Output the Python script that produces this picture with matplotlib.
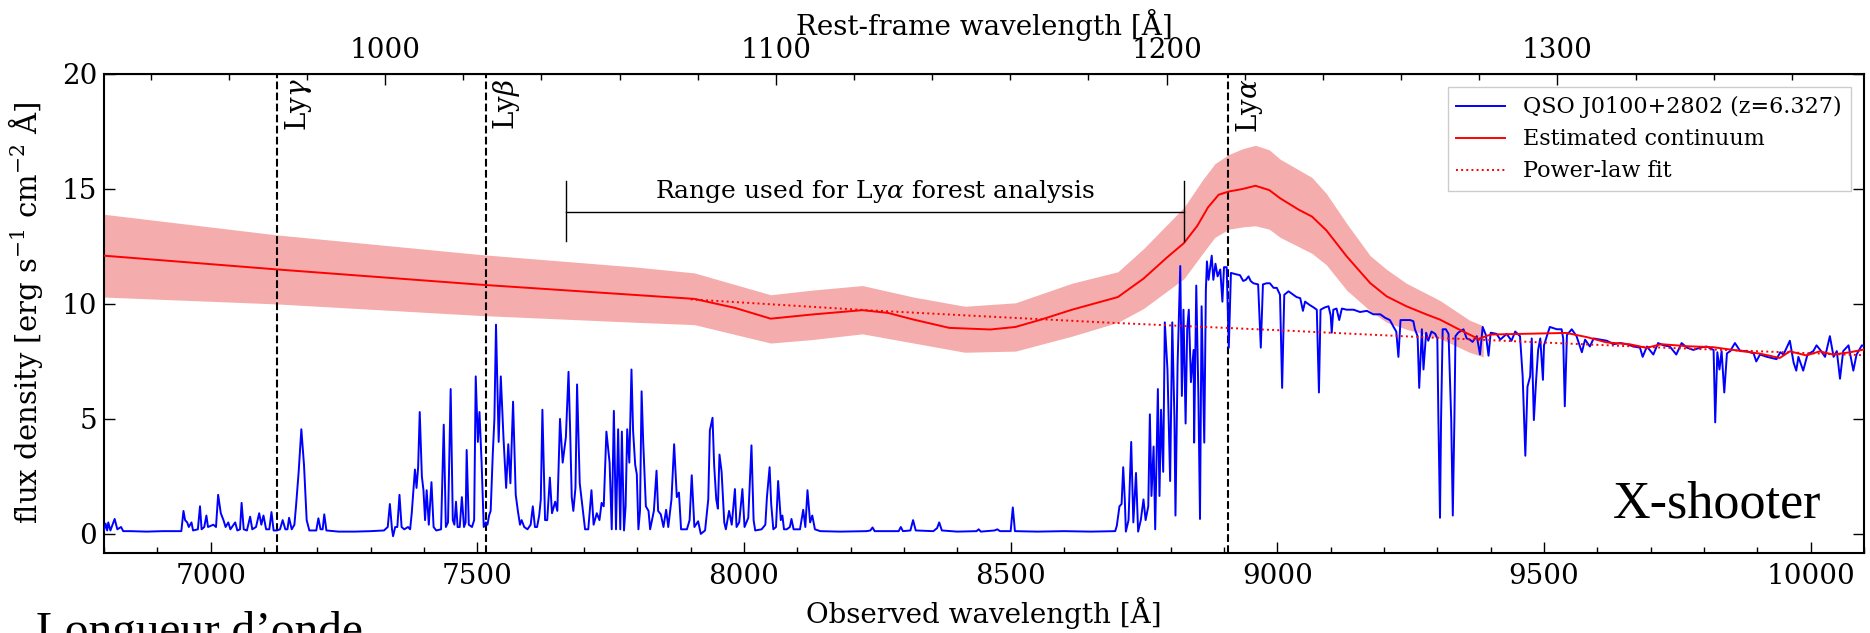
import numpy as np
import matplotlib
matplotlib.use('Agg')
import matplotlib.pyplot as plt
from matplotlib.ticker import MultipleLocator

plt.rcParams['font.family'] = ['DejaVu Serif']
plt.rcParams['mathtext.fontset'] = 'dejavuserif'

# ---------------- data ----------------
z_qso = 6.327
line_labels = [r'Ly$\gamma$', r'Ly$\beta$', r'Ly$\alpha$']
line_obs = [7125, 7516, 8908]

x_ticks_obs = [7000, 7500, 8000, 8500, 9000, 9500, 10000]
y_ticks = [0, 5, 10, 15, 20]
x_ticks_rest = [1000, 1100, 1200, 1300]

# observed spectrum (wavelength [A], flux)
spec_forest = [
    (6800, 0.15), (6803, 0.45), (6806, 0.15), (6808, 0.5), (6812, 0.15), (6820, 0.65), (6825, 0.2),
    (6832, 0.3), (6836, 0.12), (6850, 0.12), (6880, 0.1), (6910, 0.12), (6945, 0.12),
    (6949, 1.0), (6952, 0.6), (6956, 0.5), (6959, 0.3), (6964, 0.5), (6967, 0.15), (6976, 0.2),
    (6980, 1.2), (6983, 0.2), (6988, 0.3), (6992, 0.8), (6995, 0.3), (7005, 0.4), (7010, 0.3),
    (7014, 1.7), (7019, 0.9), (7024, 0.6), (7028, 0.3), (7033, 0.5), (7037, 0.2), (7046, 0.5),
    (7050, 0.15), (7055, 0.2), (7058, 1.35), (7062, 0.2), (7068, 0.15), (7074, 0.75), (7078, 0.2),
    (7085, 0.3), (7091, 0.9), (7095, 0.4), (7099, 0.8), (7104, 0.2), (7110, 0.2), (7114, 0.95),
    (7118, 0.15), (7124, 0.15), (7130, 0.2), (7135, 0.6), (7140, 0.2), (7144, 0.2), (7147, 0.7),
    (7152, 0.2), (7157, 0.4), (7160, 1.2), (7165, 2.7), (7170, 4.55), (7175, 3.0), (7180, 0.6),
    (7185, 0.15), (7198, 0.15), (7202, 0.68), (7206, 0.2), (7210, 0.2), (7213, 0.85), (7217, 0.15),
    (7240, 0.1), (7270, 0.1), (7300, 0.12), (7325, 0.15), (7332, 0.3), (7336, 1.3), (7340, 0.2),
    (7342, -0.1), (7346, 0.3), (7350, 0.3), (7354, 1.7), (7358, 0.3), (7363, 0.2), (7370, 0.3),
    (7374, 0.2), (7377, 0.9), (7383, 2.8), (7386, 2.0), (7389, 2.9), (7392, 5.3), (7396, 2.5),
    (7399, 1.9), (7402, 0.6), (7405, 1.9), (7409, 0.4), (7414, 2.25), (7418, 0.3), (7423, 0.15),
    (7432, 0.2), (7437, 4.75), (7441, 0.3), (7445, 0.5), (7450, 6.3), (7454, 0.6), (7457, 0.4),
    (7460, 1.4), (7463, 0.3), (7467, 0.3), (7471, 1.6), (7475, 0.3), (7478, 0.5), (7480, 3.65),
    (7484, 0.4), (7490, 0.3), (7494, 0.6), (7497, 6.85), (7501, 4.0), (7504, 5.3), (7508, 3.1),
    (7512, 0.3), (7516, 0.5), (7519, 0.4), (7522, 0.8), (7525, 1.0), (7529, 3.5), (7532, 5.0),
    (7535, 9.1), (7538, 6.0), (7540, 4.0), (7544, 6.85), (7549, 4.2), (7554, 2.0), (7558, 3.9),
    (7562, 2.2), (7567, 5.75), (7572, 1.7), (7576, 1.0), (7580, 0.4), (7583, 0.6), (7588, 0.3),
    (7594, 0.2), (7600, 0.4), (7604, 1.2), (7608, 0.3), (7612, 0.3), (7616, 0.8), (7619, 1.5),
    (7622, 5.4), (7627, 0.6), (7631, 0.6), (7636, 2.45), (7640, 0.9), (7646, 1.4), (7650, 1.0),
    (7655, 5.0), (7660, 3.1), (7666, 4.2), (7671, 7.05), (7674, 4.5), (7677, 1.6), (7680, 1.0),
    (7684, 2.0), (7687, 6.5), (7692, 2.2), (7697, 1.2), (7702, 0.2), (7708, 0.2), (7714, 1.9),
    (7718, 0.4), (7724, 0.9), (7729, 0.6), (7733, 1.35), (7737, 1.2), (7742, 4.45), (7748, 3.1),
    (7752, 0.2), (7756, 5.35), (7760, 0.2), (7764, 4.55), (7768, 0.2), (7771, 4.45), (7775, 0.15),
    (7778, 1.2), (7781, 4.55), (7785, 3.1), (7789, 7.15), (7792, 4.5), (7796, 3.0), (7799, 2.6),
    (7802, 0.2), (7805, 1.0), (7808, 6.2), (7811, 4.0), (7816, 1.2), (7821, 1.0), (7824, 0.2),
    (7831, 1.0), (7836, 2.75), (7839, 1.0), (7844, 0.85), (7849, 0.3), (7854, 1.05), (7858, 0.3),
    (7864, 1.5), (7869, 3.9), (7874, 1.6), (7878, 1.8), (7882, 0.2), (7893, 0.2), (7898, 0.6),
    (7902, 2.55), (7907, 0.3), (7914, 0.55), (7919, 0.0), (7927, 0.15), (7933, 1.5), (7936, 4.5),
    (7941, 5.05), (7944, 3.0), (7948, 1.5), (7951, 1.1), (7954, 3.45), (7958, 2.7), (7963, 0.5),
    (7966, 0.2), (7972, 1.0), (7977, 0.4), (7983, 1.95), (7986, 0.3), (7991, 0.5), (7997, 1.95),
    (8001, 0.3), (8008, 0.7), (8014, 3.85), (8018, 0.6), (8021, 0.15), (8033, 0.2), (8040, 0.4),
    (8043, 1.6), (8048, 2.9), (8051, 1.3), (8055, 0.2), (8060, 0.3), (8064, 2.3), (8069, 0.6),
    (8072, 0.8), (8075, 0.2), (8080, 0.2), (8086, 0.3), (8089, 0.65), (8093, 0.2), (8105, 0.2),
    (8111, 1.05), (8115, 0.3), (8119, 1.9), (8124, 0.5), (8128, 0.8), (8133, 0.2), (8143, 0.12),
    (8180, 0.1), (8230, 0.12), (8237, 0.15), (8241, 0.28), (8245, 0.12), (8290, 0.12), (8294, 0.3),
    (8298, 0.12), (8312, 0.15), (8317, 0.6), (8322, 0.15), (8355, 0.12), (8362, 0.25), (8366, 0.5),
    (8371, 0.15), (8400, 0.1), (8436, 0.12), (8440, 0.2), (8444, 0.1), (8470, 0.15), (8475, 0.2),
    (8480, 0.12), (8500, 0.12), (8504, 1.15), (8508, 0.12), (8550, 0.1), (8600, 0.12), (8650, 0.1),
    (8696, 0.12),
]
spec_lya = [
    (8699, 0.35), (8704, 1.2), (8708, 1.3), (8711, 2.9), (8714, 1.5), (8716, 0.1), (8721, 0.6),
    (8726, 4.0), (8730, 0.5), (8735, 2.65), (8739, 0.1), (8744, 0.6), (8749, 1.5), (8753, 0.6),
    (8758, 1.2), (8761, 5.2), (8764, 1.65), (8768, 3.8), (8771, 0.2), (8776, 6.3), (8779, 1.65),
    (8782, 5.4), (8786, 2.7), (8789, 9.2), (8794, 7.15), (8799, 2.3), (8803, 9.2), (8807, 5.1),
    (8809, 0.8), (8813, 7.4), (8818, 11.65), (8821, 6.0), (8824, 9.75), (8828, 4.8), (8831, 8.9),
    (8834, 9.75), (8838, 6.6), (8843, 8.0), (8844, 3.97), (8848, 10.8), (8852, 6.0), (8855, 0.65),
    (8858, 9.9), (8863, 3.97), (8866, 10.6), (8868, 11.85), (8871, 11.05), (8877, 12.1),
    (8880, 11.05), (8884, 11.75), (8888, 11.2), (8893, 11.5), (8897, 10.1), (8900, 11.6),
    (8905, 11.6), (8909, 8.1), (8913, 11.35), (8921, 11.3), (8930, 11.25), (8936, 11.0),
    (8941, 11.05), (8946, 11.2), (8950, 11.0), (8955, 10.9), (8964, 10.85), (8969, 8.1),
    (8973, 10.85), (8980, 10.9), (8986, 10.9), (8993, 10.7), (8999, 10.7), (9005, 10.4),
    (9009, 6.35), (9013, 10.4), (9021, 10.55), (9030, 10.4), (9036, 10.3), (9043, 10.25),
    (9048, 9.7), (9052, 10.1), (9061, 9.95), (9068, 9.85), (9074, 9.75), (9078, 6.15), (9081, 9.75),
    (9089, 9.85), (9096, 9.9), (9100, 9.5), (9102, 8.75), (9105, 9.75), (9111, 9.8), (9116, 9.3),
    (9121, 9.8), (9130, 9.75), (9143, 9.75), (9155, 9.65), (9168, 9.7), (9180, 9.55), (9193, 9.55),
    (9202, 9.4), (9211, 9.3), (9218, 9.0), (9223, 8.8), (9227, 7.7), (9231, 9.3),
]
spec_red = [
    (9236, 9.3), (9249, 9.3), (9255, 9.25), (9258, 8.9), (9263, 8.6), (9266, 6.35), (9271, 8.9),
    (9274, 7.15), (9279, 8.75), (9283, 8.4), (9289, 8.8), (9296, 8.7), (9300, 8.5), (9302, 5.0),
    (9305, 0.7), (9307, 5.0), (9310, 8.9), (9316, 8.9), (9321, 8.7), (9326, 5.0), (9329, 0.8),
    (9332, 5.0), (9334, 8.6), (9339, 8.75), (9349, 8.9), (9355, 8.5), (9361, 8.45), (9366, 8.35),
    (9374, 8.6), (9380, 7.8), (9385, 9.0), (9391, 8.65), (9396, 7.75), (9400, 8.75), (9411, 8.7),
    (9418, 8.45), (9430, 8.7), (9439, 8.4), (9446, 8.8), (9455, 8.6), (9460, 6.85), (9465, 3.4),
    (9469, 6.4), (9474, 6.85), (9477, 8.5), (9481, 4.95), (9485, 6.6), (9489, 8.0), (9493, 8.5),
    (9498, 6.7), (9500, 8.2), (9506, 8.65), (9511, 9.0), (9524, 8.9), (9533, 8.9), (9536, 8.5),
    (9539, 5.55), (9543, 8.65), (9552, 8.9), (9561, 8.6), (9571, 7.9), (9577, 8.45), (9586, 8.15),
    (9593, 8.5), (9605, 8.45), (9618, 8.4), (9630, 8.25), (9643, 8.3), (9655, 8.25), (9668, 8.15),
    (9680, 8.1), (9685, 7.7), (9693, 8.15), (9705, 7.8), (9714, 8.3), (9724, 8.2), (9736, 8.15),
    (9748, 7.8), (9758, 8.3), (9768, 8.1), (9780, 8.0), (9793, 8.1), (9805, 8.15), (9818, 8.0),
    (9821, 4.85), (9825, 7.9), (9829, 7.15), (9833, 7.95), (9838, 6.15), (9843, 7.85), (9849, 7.95),
    (9858, 8.3), (9868, 7.95), (9880, 7.95), (9893, 7.85), (9898, 7.5), (9905, 7.8), (9918, 7.7),
    (9927, 7.65), (9936, 7.6), (9943, 7.9), (9949, 7.8), (9961, 8.4), (9968, 7.45), (9973, 7.1),
    (9977, 7.7), (9986, 7.1), (9994, 7.8), (10005, 7.95), (10011, 8.2), (10018, 8.0), (10027, 7.7),
    (10036, 8.6), (10043, 7.7), (10049, 7.95), (10055, 6.75), (10061, 7.95), (10071, 8.2),
    (10080, 7.1), (10086, 7.8), (10096, 8.2), (10102, 8.15),
]

# estimated continuum
cont_wave = [6800, 7125, 7505, 7907, 7983, 8050, 8127, 8222, 8270, 8318, 8385, 8462, 8509, 8557,
             8615, 8701, 8749, 8792, 8825, 8850, 8870, 8890, 8909, 8935, 8959, 8985, 9005, 9040,
             9065, 9092, 9130, 9174, 9205, 9242, 9280, 9305, 9340, 9377, 9400, 9460, 9542, 9580,
             9617, 9660, 9692, 9720, 9770, 9817, 9855, 9905, 9942, 9961, 9992, 10017, 10042,
             10074, 10100]
cont_flux = [12.1, 11.5, 10.84, 10.22, 9.83, 9.36, 9.54, 9.73, 9.61, 9.32, 8.96, 8.89, 9.0, 9.32,
             9.75, 10.3, 11.1, 12.0, 12.65, 13.4, 14.2, 14.75, 14.89, 15.0, 15.14, 14.95, 14.6, 14.1,
             13.8, 13.2, 12.07, 10.91, 10.33, 9.9, 9.54, 9.32, 8.9, 8.48, 8.67, 8.7, 8.74, 8.56,
             8.33, 8.25, 8.09, 8.25, 8.16, 8.12, 8.0, 7.84, 7.65, 7.94, 7.76, 7.94, 7.8,
             7.9, 8.02]

# continuum uncertainty band
band_wave = [6800, 7125, 7505, 7800, 7907, 8050, 8127, 8222, 8318, 8414, 8509, 8615, 8701, 8749,
             8825, 8860, 8883, 8909, 8935, 8959, 8985, 9005, 9065, 9092, 9130, 9174, 9205, 9242,
             9305, 9360, 9386]
band_lo = [10.3, 10.0, 9.5, 9.2, 9.1, 8.3, 8.45, 8.7, 8.3, 7.9, 7.95, 8.6, 9.2, 9.8,
           11.1, 12.2, 12.9, 13.25, 13.35, 13.4, 13.25, 12.9, 12.2, 11.7, 10.6, 9.7, 9.2, 8.9,
           8.5, 7.9, 7.7]
band_hi = [13.9, 13.0, 12.15, 11.6, 11.35, 10.4, 10.6, 10.8, 10.3, 9.9, 10.05, 10.9, 11.4, 12.4,
           14.2, 15.4, 16.1, 16.5, 16.75, 16.9, 16.7, 16.3, 15.5, 14.8, 13.5, 12.1, 11.5, 10.9,
           10.15, 9.3, 9.05]

# power-law fit
pl_wave = [7900, 8230, 8460, 8690, 9000, 9305, 9700, 10100]
pl_flux = [10.2, 9.73, 9.45, 9.18, 8.86, 8.52, 8.12, 7.77]

# forest range bar
range_wave = [7666, 8825]
range_y = 14.0
range_cap = [12.72, 15.33]
range_text = r'Range used for Ly$\alpha$ forest analysis'

# ---------------- figure ----------------
fig = plt.figure(figsize=(18.7, 6.33), dpi=100)
ax = fig.add_axes([104 / 1870, 1 - 553 / 633, 1760 / 1870, 479 / 633])

spec = spec_forest + spec_lya + spec_red
sw = [p[0] for p in spec]
sf = [p[1] for p in spec]

ax.fill_between(band_wave, band_lo, band_hi, color='#e83030', alpha=0.4, lw=0, zorder=1)
ax.plot(sw, sf, color='#0000ff', lw=1.4, zorder=3, label='QSO J0100+2802 (z=6.327)')
ax.plot(cont_wave, cont_flux, color='red', lw=1.4, zorder=4, label='Estimated continuum')
ax.plot(pl_wave, pl_flux, color='red', lw=1.4, ls=':', zorder=4, label='Power-law fit')

for w, lab in zip(line_obs, line_labels):
    ax.axvline(w, color='black', ls='--', lw=1.5, zorder=2)
    ax.text(w + 10, 19.8, lab, rotation=90, ha='left', va='top', fontsize=20)

ax.plot(range_wave, [range_y, range_y], color='black', lw=1.0, zorder=5)
for w in range_wave:
    ax.plot([w, w], range_cap, color='black', lw=1.0, zorder=5)
ax.text(sum(range_wave) / 2, 14.9, range_text, ha='center', va='center', fontsize=18)

ax.set_xlim(6800, 10100)
ax.set_ylim(-0.83, 20)
ax.set_xticks(x_ticks_obs)
ax.xaxis.set_minor_locator(MultipleLocator(100))
ax.set_yticks(y_ticks)
ax.tick_params(axis='both', which='both', direction='in', top=False, right=True,
               labelsize=20, width=1.0)
ax.tick_params(axis='x', which='major', length=8, pad=7)
ax.tick_params(axis='x', which='minor', length=4.5)
ax.tick_params(axis='y', which='major', length=8, pad=5)
for s in ax.spines.values():
    s.set_linewidth(1.5)

sec = ax.secondary_xaxis('top', functions=(lambda x: x / (1 + z_qso), lambda x: x * (1 + z_qso)))
sec.set_xticks(x_ticks_rest)
sec.xaxis.set_minor_locator(MultipleLocator(20))
sec.tick_params(axis='x', which='both', direction='in', labelsize=20, width=1.0)
sec.tick_params(axis='x', which='major', length=8, pad=7)
sec.tick_params(axis='x', which='minor', length=4.5)

fig.text(984 / 1870, 1 - 25 / 633, 'Rest-frame wavelength [Å]', ha='center', va='center', fontsize=20)
fig.text(984 / 1870, 1 - 613 / 633, 'Observed wavelength [Å]', ha='center', va='center', fontsize=20)
fig.text(26 / 1870, 1 - 313 / 633, r'flux density [erg s$^{-1}$ cm$^{-2}$ Å]', ha='center',
         va='center', rotation=90, fontsize=21)

leg = ax.legend(loc='upper right', bbox_to_anchor=(1.0, 1.0), fontsize=16, frameon=True,
                fancybox=False, edgecolor='0.8', labelspacing=0.45, borderaxespad=0.6,
                handlelength=2.2, framealpha=1.0)
leg.get_frame().set_linewidth(1.0)

fig.text(1821 / 1870, 1 - 517 / 633, 'X-shooter', ha='right', va='baseline', fontsize=37.5,
         family='Liberation Serif')
fig.text(36 / 1870, 1 - 644 / 633, 'Longueur d’onde', ha='left', va='baseline', fontsize=34,
         family='Liberation Serif')

fig.savefig('out.png', dpi=100)
